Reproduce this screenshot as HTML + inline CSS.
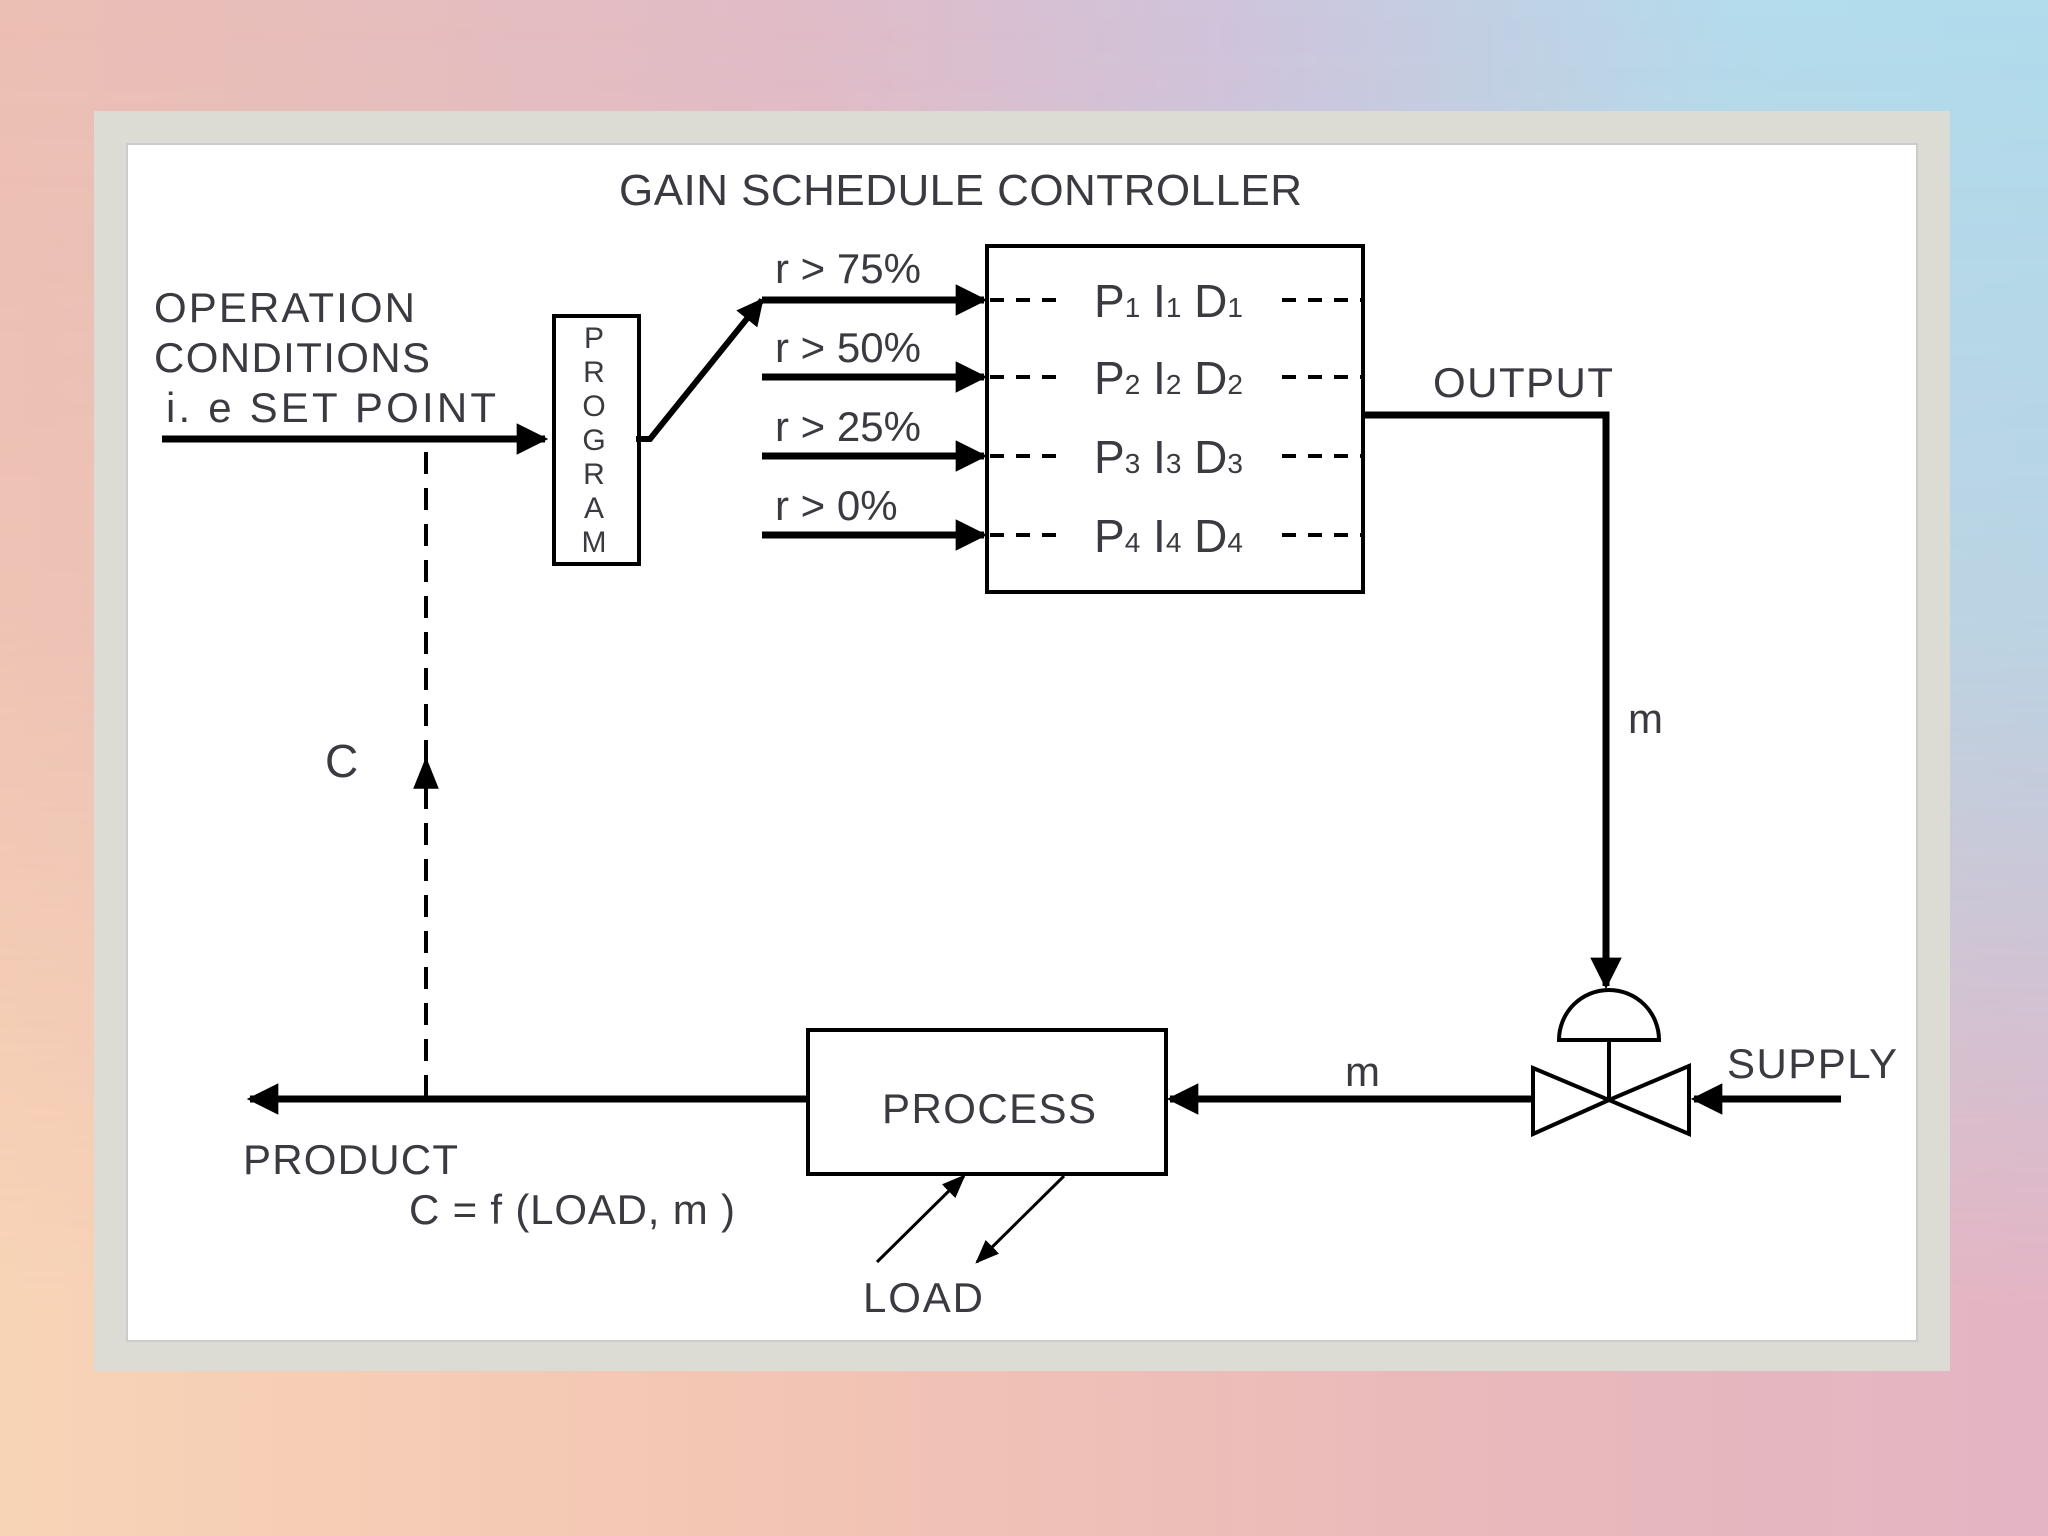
<!DOCTYPE html>
<html><head><meta charset="utf-8"><style>
html,body{margin:0;padding:0;width:2048px;height:1536px;overflow:hidden}
body{background:linear-gradient(to right,#ecbfb4 0%,#e0bcc8 40%,#cfc4dc 60%,#b4dcec 85%,#b0dcec 100%);position:relative}
.ov{position:absolute;inset:0;background:linear-gradient(to right,#f8d4b6 0%,#f2c4b4 40%,#e8b8bc 75%,#e4b4c4 100%);-webkit-mask-image:linear-gradient(to bottom,rgba(0,0,0,0) 0%,rgba(0,0,0,0.2) 40%,rgba(0,0,0,1) 85%);mask-image:linear-gradient(to bottom,rgba(0,0,0,0) 0%,rgba(0,0,0,0.2) 40%,rgba(0,0,0,1) 85%)}
svg{position:absolute;left:0;top:0}
text{font-family:"Liberation Sans Narrow","Liberation Sans",sans-serif;fill:#3a3a40}
</style></head><body>
<div class="ov"></div>
<svg width="2048" height="1536" viewBox="0 0 2048 1536">
<defs>
<marker id="a" viewBox="0 0 10 10" refX="9" refY="5" markerWidth="4.5" markerHeight="4.5" markerUnits="strokeWidth" orient="auto"><path d="M0,0 L10,5 L0,10 Z" fill="#000"/></marker>
<marker id="s" viewBox="0 0 10 10" refX="9" refY="5" markerWidth="8" markerHeight="8" markerUnits="strokeWidth" orient="auto"><path d="M0,1 L10,5 L0,9 Z" fill="#000"/></marker>
</defs>
<rect x="94" y="111" width="1856" height="1260" fill="#dcdbd4"/>
<rect x="127" y="144" width="1790" height="1197" fill="#fff" stroke="#ccc" stroke-width="2"/>
<text x="619" y="205" font-size="44" textLength="683">GAIN SCHEDULE  CONTROLLER</text>
<text x="154" y="322" font-size="42" textLength="261">OPERATION</text>
<text x="154" y="372" font-size="42" textLength="276">CONDITIONS</text>
<text x="166" y="422" font-size="42" textLength="330">i. e   SET POINT</text>
<g stroke="#000" fill="none">
<line x1="162" y1="439" x2="545" y2="439" stroke-width="7" marker-end="url(#a)"/>
<rect x="554" y="316" width="85" height="248" stroke-width="4"/>
<polyline points="636,439 650,439 762,300" stroke-width="6" marker-end="url(#a)"/>
<line x1="762" y1="300" x2="984" y2="300" stroke-width="7" marker-end="url(#a)"/>
<line x1="762" y1="377" x2="984" y2="377" stroke-width="7" marker-end="url(#a)"/>
<line x1="762" y1="456" x2="984" y2="456" stroke-width="7" marker-end="url(#a)"/>
<line x1="762" y1="535" x2="984" y2="535" stroke-width="7" marker-end="url(#a)"/>
<rect x="987" y="246" width="376" height="346" stroke-width="4"/>
<g stroke-width="4" stroke-dasharray="14,12">
<line x1="990" y1="300" x2="1060" y2="300"/><line x1="990" y1="377" x2="1060" y2="377"/>
<line x1="990" y1="456" x2="1060" y2="456"/><line x1="990" y1="535" x2="1060" y2="535"/>
<line x1="1282" y1="300" x2="1362" y2="300"/><line x1="1282" y1="377" x2="1362" y2="377"/>
<line x1="1282" y1="456" x2="1362" y2="456"/><line x1="1282" y1="535" x2="1362" y2="535"/>
</g>
<polyline points="1363,415 1606,415 1606,986" stroke-width="7" marker-end="url(#a)"/>
<path d="M1559,1040 A50,50 0 0 1 1659,1040 Z" stroke-width="4" fill="#fff"/>
<line x1="1609" y1="1040" x2="1609" y2="1100" stroke-width="4"/>
<path d="M1533,1068 L1609,1100 L1533,1134 Z M1689,1066 L1609,1100 L1689,1134 Z" stroke-width="4" fill="#fff"/>
<line x1="1841" y1="1099" x2="1694" y2="1099" stroke-width="7" marker-end="url(#a)"/>
<line x1="1533" y1="1099" x2="1170" y2="1099" stroke-width="7" marker-end="url(#a)"/>
<rect x="808" y="1030" width="358" height="144" stroke-width="4"/>
<line x1="808" y1="1099" x2="250" y2="1099" stroke-width="7" marker-end="url(#a)"/>
<line x1="426" y1="1097" x2="426" y2="760" stroke-width="4" stroke-dasharray="22,14" marker-end="url(#s)"/>
<line x1="426" y1="452" x2="426" y2="760" stroke-width="4" stroke-dasharray="22,14"/>
<line x1="877" y1="1262" x2="964" y2="1176" stroke-width="3" marker-end="url(#s)"/>
<line x1="1064" y1="1176" x2="977" y2="1262" stroke-width="3" marker-end="url(#s)"/>
</g>
<g font-size="30" text-anchor="middle">
<text x="594" y="348">P</text><text x="594" y="382">R</text><text x="594" y="416">O</text><text x="594" y="450">G</text><text x="594" y="484">R</text><text x="594" y="518">A</text><text x="594" y="552">M</text>
</g>
<g font-size="42">
<text x="775" y="283">r &gt; 75%</text>
<text x="775" y="362">r &gt; 50%</text>
<text x="775" y="441">r &gt; 25%</text>
<text x="775" y="520">r &gt; 0%</text>
</g>
<g font-size="46">
<text x="1094" y="317">P<tspan font-size="28">1</tspan> I<tspan font-size="28">1</tspan> D<tspan font-size="28">1</tspan></text>
<text x="1094" y="394">P<tspan font-size="28">2</tspan> I<tspan font-size="28">2</tspan> D<tspan font-size="28">2</tspan></text>
<text x="1094" y="473">P<tspan font-size="28">3</tspan> I<tspan font-size="28">3</tspan> D<tspan font-size="28">3</tspan></text>
<text x="1094" y="552">P<tspan font-size="28">4</tspan> I<tspan font-size="28">4</tspan> D<tspan font-size="28">4</tspan></text>
</g>
<g font-size="42">
<text x="1433" y="397" textLength="180">OUTPUT</text>
<text x="1628" y="733">m</text>
<text x="1345" y="1086">m</text>
<text x="1727" y="1078" textLength="170">SUPPLY</text>
<text x="882" y="1123" textLength="214">PROCESS</text>
<text x="243" y="1174" textLength="215">PRODUCT</text>
<text x="409" y="1224" textLength="326">C = f (LOAD, m )</text>
<text x="863" y="1312" textLength="120">LOAD</text>
<text x="325" y="777" font-size="46">C</text>
</g>
</svg>
</body></html>
